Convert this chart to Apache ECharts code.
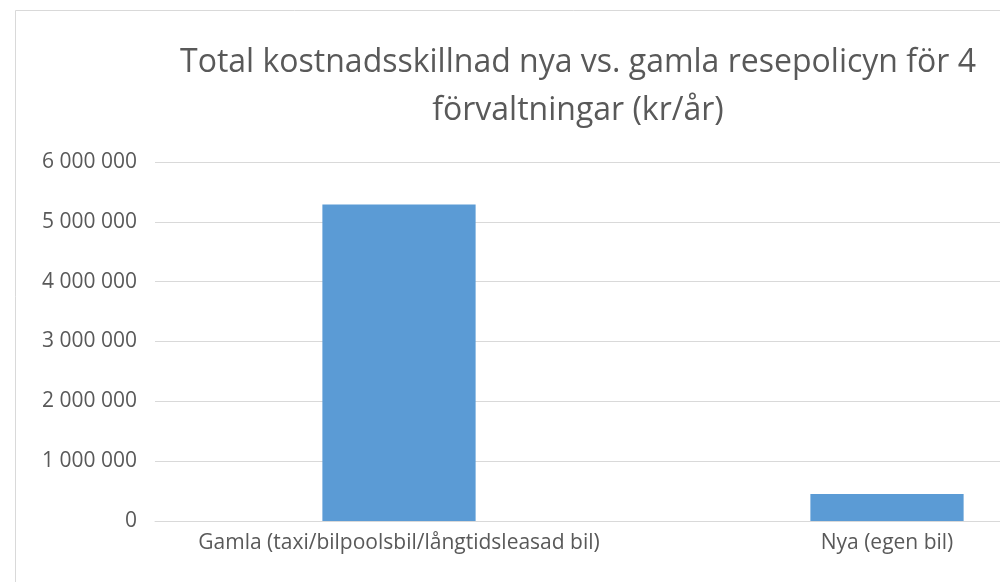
<!DOCTYPE html>
<html><head><meta charset="utf-8">
<script src="https://cdn.jsdelivr.net/npm/echarts@6/dist/echarts.min.js"></script>
<style>html,body{margin:0;padding:0;background:#fff;overflow:hidden;width:1000px;height:582px}#c{width:1131px;height:582px}</style>
</head><body><div id="c"></div>
<script>
const categories = ['Gamla (taxi/bilpoolsbil/långtidsleasad bil)', 'Nya (egen bil)'];
const values = [5290000, 450000];
const titleLines = ['Total kostnadsskillnad nya vs. gamla resepolicyn för 4', 'förvaltningar (kr/år)'];

const chart = echarts.init(document.getElementById('c'), null, {renderer: 'canvas'});
const fmt = v => String(v).replace(/\B(?=(\d{3})+(?!\d))/g, ' ');
chart.setOption({
  animation: false,
  backgroundColor: '#fff',
  graphic: [{
    type: 'rect', shape: {x: 15.5, y: 10.5, width: 1300, height: 800},
    style: {fill: 'none', stroke: '#d9d9d9', lineWidth: 1}, silent: true, z: -1
  }],
  title: {
    text: titleLines.join('\n'),
    left: 573, top: 34, textAlign: 'center',
    textStyle: {fontFamily: 'Open Sans', fontSize: 32, fontWeight: 'normal', color: '#595959', lineHeight: 48}
  },
  grid: {left: 155, right: 0, top: 162, bottom: 61, containLabel: false},
  xAxis: {
    type: 'category', data: categories,
    axisTick: {show: false},
    axisLine: {show: true, lineStyle: {color: '#d9d9d9', width: 1}},
    axisLabel: {fontFamily: 'Open Sans', fontSize: 21, color: '#595959', margin: 12, interval: 0}
  },
  yAxis: {
    type: 'value', min: 0, max: 6000000, interval: 1000000,
    axisLine: {show: false}, axisTick: {show: false},
    splitLine: {lineStyle: {color: '#d9d9d9', width: 1}},
    axisLabel: {fontFamily: 'Open Sans', fontSize: 21, color: '#595959', margin: 18, formatter: fmt}
  },
  series: [{
    type: 'bar', data: values, barWidth: '31.4%',
    itemStyle: {color: '#5B9BD5'}
  }]
});
</script></body></html>
